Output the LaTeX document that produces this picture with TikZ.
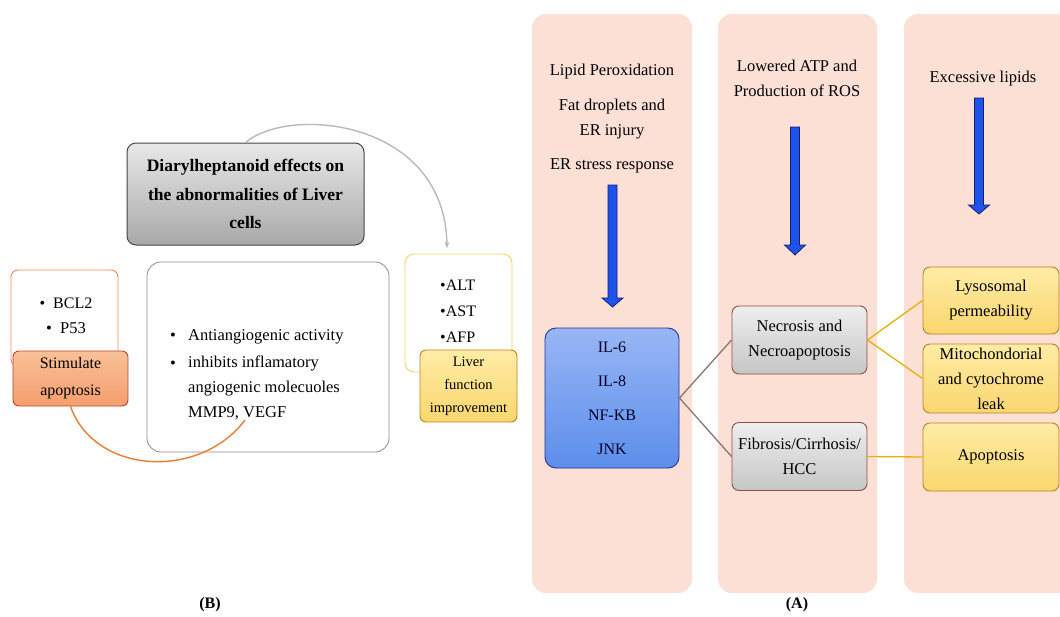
\documentclass[tikz,border=0pt]{standalone}
\usepackage{fontspec}
\setmainfont{Liberation Serif}
\usetikzlibrary{arrows.meta}
\definecolor{pinkbg}{RGB}{252,224,214}
\definecolor{bluetop}{RGB}{152,182,245}
\definecolor{bluebot}{RGB}{92,142,236}
\definecolor{blueedge}{RGB}{40,50,140}
\definecolor{graytop}{RGB}{238,238,238}
\definecolor{graybot}{RGB}{198,198,198}
\definecolor{grayedge}{RGB}{140,80,60}
\definecolor{titletop}{RGB}{232,232,232}
\definecolor{titlebot}{RGB}{168,168,168}
\definecolor{titleedge}{RGB}{70,70,70}
\definecolor{yeltop}{RGB}{255,236,165}
\definecolor{yelbot}{RGB}{250,214,110}
\definecolor{yeledge}{RGB}{190,130,30}
\definecolor{yelline}{RGB}{232,176,0}
\definecolor{brownline}{RGB}{140,118,108}
\definecolor{orline}{RGB}{238,140,90}
\definecolor{ortop}{RGB}{250,192,152}
\definecolor{orbot}{RGB}{244,158,110}
\definecolor{oredge}{RGB}{185,70,40}
\definecolor{altedge}{RGB}{245,212,90}
\definecolor{arrowblue}{RGB}{30,82,232}
\definecolor{arrowedge}{RGB}{20,30,120}
\definecolor{arcgray}{RGB}{185,185,185}
\definecolor{arcorange}{RGB}{237,125,49}
\tikzset{
  panel/.style={fill=pinkbg, draw=none, rounded corners=14pt},
  txt/.style={font=\fontsize{16.5}{25}\selectfont, align=center, inner sep=0pt},
  bluebox/.style={draw=blueedge, line width=0.9pt, rounded corners=11pt, top color=bluetop, bottom color=bluebot,
    minimum width=134pt, minimum height=140pt, font=\fontsize{16}{34}\selectfont, align=center, text=black!85!blue},
  graybox/.style={draw=grayedge, line width=0.9pt, rounded corners=7pt, top color=graytop, bottom color=graybot,
    minimum width=135pt, minimum height=68pt, font=\fontsize{16.5}{25}\selectfont, align=center},
  yelbox/.style={draw=yeledge, line width=0.9pt, rounded corners=7pt, top color=yeltop, bottom color=yelbot,
    minimum width=136pt, font=\fontsize{16.5}{25}\selectfont, align=center, inner sep=0pt},
  titlebox/.style={draw=titleedge, line width=1pt, rounded corners=9pt, top color=titletop, bottom color=titlebot,
    minimum width=237pt, minimum height=102pt, font=\fontsize{17.5}{28.5}\selectfont\bfseries, align=center},
  whitebox/.style={draw=black!45, line width=0.8pt, rounded corners=14pt, fill=white},
  orbox/.style={draw=orline, line width=0.9pt, rounded corners=7pt, fill=white},
  stimbox/.style={draw=oredge, line width=0.9pt, rounded corners=6pt, top color=ortop, bottom color=orbot,
    minimum width=115pt, minimum height=55pt, font=\fontsize{16}{27}\selectfont, align=center},
  altbox/.style={draw=altedge, line width=0.9pt, rounded corners=9pt, fill=white},
  liverbox/.style={draw=yeledge, line width=0.9pt, rounded corners=6pt, top color=yeltop, bottom color=yelbot,
    minimum width=97pt, minimum height=72pt, font=\fontsize{14.5}{23}\selectfont, align=center},
  blockarrow/.style={fill=arrowblue, draw=arrowedge, line width=0.8pt, line join=miter},
  yconn/.style={draw=yelline, line width=1.3pt},
  bconn/.style={draw=brownline, line width=1.3pt},
  lbl/.style={font=\fontsize{16}{20}\selectfont\bfseries, inner sep=0pt},
}
\newcommand\downblock[4]{%
  \draw[blockarrow] (#1-4.5,#2) -- (#1+4.5,#2) -- (#1+4.5,#3) -- (#1+10.5,#3) -- (#1,#4)
    -- (#1-10.5,#3) -- (#1-4.5,#3) -- cycle;}
\begin{document}
\begin{tikzpicture}[x=1pt,y=-1pt]
\useasboundingbox[fill=white] (0,0) rectangle (1060,616);
\clip (0,0) rectangle (1060,616);

% ---------- (A) panels ----------
\path[panel] (532,14) rectangle (692,593);
\path[panel] (718,14) rectangle (877,593);
\path[panel] (904,14) rectangle (1090,593);

\node[txt] (lp) at (612,72) {Lipid Peroxidation};
\node[txt] (fd) at (612,119) {Fat droplets and\\ER injury};
\node[txt] (er) at (612,166) {ER stress response};
\node[txt] (atp) at (797,78.5) {Lowered ATP and\\Production of ROS};
\node[txt] (exl) at (983,79) {Excessive lipids};

\downblock{612.5}{185}{298}{307}
\downblock{795}{127}{245}{255}
\downblock{979}{98}{205}{214}

\node[bluebox] (il) at (612,398) {IL-6\\IL-8\\NF-KB\\JNK};
\node[graybox] (nec) at (799.5,340) {Necrosis and\\Necroapoptosis};
\node[graybox] (fib) at (799.5,456.5) {Fibrosis/Cirrhosis/\\HCC};
\node[yelbox, minimum height=67pt] (lys) at (991,300.5) {Lysosomal\\permeability};
\node[yelbox, minimum height=69pt] (mit) at (991,378.5) {Mitochondorial\\and cytochrome\\leak};
\node[yelbox, minimum height=68pt] (apo) at (991,457) {Apoptosis};

\draw[bconn] (il.east) -- (nec.west);
\draw[bconn] (il.east) -- (fib.west);
\draw[yconn] (nec.east) -- (lys.west);
\draw[yconn] (nec.east) -- (mit.west);
\draw[yconn] (fib.east) -- (apo.west);

\node[lbl] (labA) at (797,605) {(A)};

% ---------- (B) ----------
\node[titlebox] (title) at (245.5,194) {Diarylheptanoid effects on\\the abnormalities of Liver\\cells};
\coordinate (arcend) at (447,248);
\draw[draw=arcgray, line width=1.4pt, -{Stealth[length=6pt,width=5pt]}]
  (title.north) .. controls (290,105) and (445,120) .. (arcend);

\path[orbox] (11,270) rectangle (118,366);
\node[txt] (bcl) at (66,315.5) {\fontsize{16}{29}\selectfont\textbullet\enspace BCL2\\\textbullet\enspace P53};
\node[stimbox] (stim) at (70.5,378.5) {Stimulate\\apoptosis};

\path[whitebox] (147,262) rectangle (389,452);
\node[txt, anchor=west] (b1) at (170,337) {\textbullet};
\node[txt, anchor=west] (t1) at (188,337) {Antiangiogenic activity};
\node[txt, anchor=west] (b2) at (170,365) {\textbullet};
\node[txt, anchor=north west, align=left] (t2) at (188,356) {inhibits inflamatory\\angiogenic molecuoles\\MMP9, VEGF};

\coordinate (orend) at (245,420);
\draw[draw=arcorange, line width=1.4pt] (stim.south) .. controls (95,475) and (200,480) .. (orend);

\path[altbox] (405,254) rectangle (512,372);
\node[txt, anchor=west, align=left, font=\fontsize{16}{26}\selectfont] (alt) at (440,311) {\textbullet ALT\\\textbullet AST\\\textbullet AFP};
\node[liverbox] (liver) at (468.5,386) {Liver\\function\\improvement};

\node[lbl] (labB) at (210,605) {(B)};
\end{tikzpicture}
\end{document}
